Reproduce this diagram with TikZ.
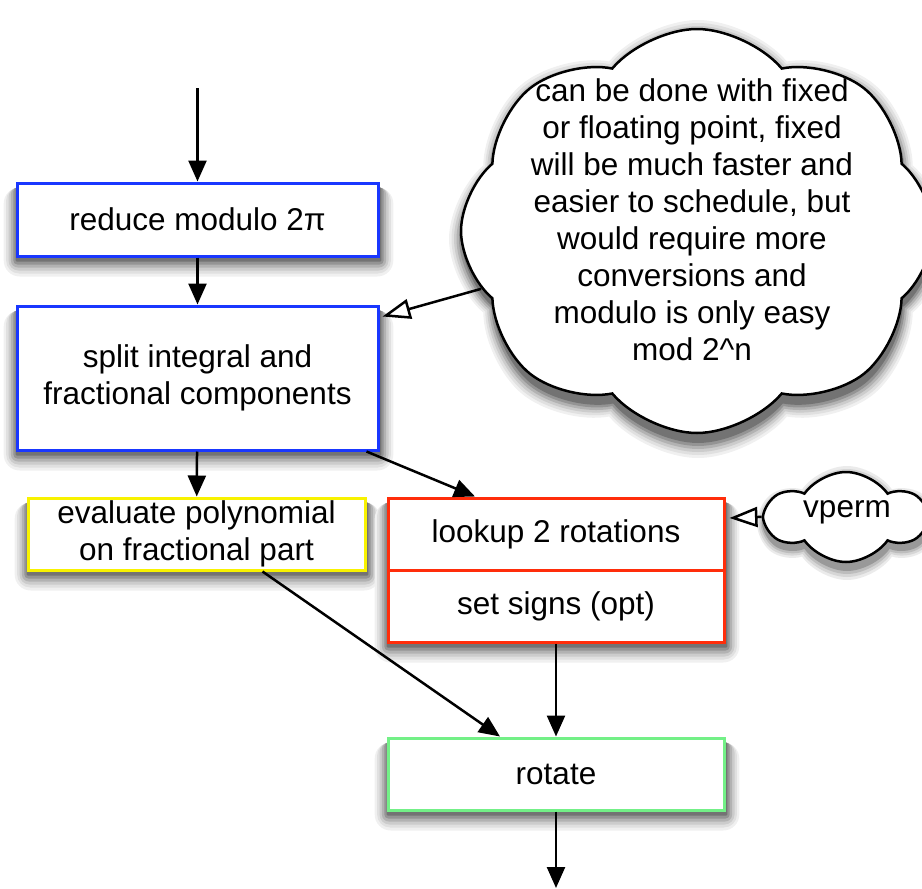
\documentclass[tikz,border=0pt]{standalone}
\usepackage{fontspec}
\setmainfont{Liberation Sans}
\usetikzlibrary{arrows.meta,shapes.symbols,backgrounds}
\definecolor{boxblue}{RGB}{25,55,255}
\definecolor{boxred}{RGB}{255,45,10}
\definecolor{boxyellow}{RGB}{248,242,0}
\definecolor{boxgreen}{RGB}{115,240,135}
\begin{document}
\begin{tikzpicture}[x=1pt,y=-1pt,
  font=\fontsize{31.5}{37}\selectfont,
  box/.style={draw,line width=3pt,fill=white,inner sep=0pt,align=center},
  cloudst/.style={cloud,cloud ignores aspect,draw,line width=2.5pt,fill=white,inner sep=0pt},
  bigpuffs/.style={cloud puffs=8,cloud puff arc=100},
  smallpuffs/.style={cloud puffs=6,cloud puff arc=110},
  cloudsh/.style={cloud,cloud ignores aspect,inner sep=0pt,draw=none},
  arr/.style={line width=2.5pt,-{Triangle[length=21pt,width=18pt]}},
  openarr/.style={line width=2.5pt,-{Triangle[open,length=28pt,width=20pt,fill=white]}},
  txt/.style={align=center,inner sep=0pt}]
\useasboundingbox (0,0) rectangle (922,889);
% big cloud
\node[cloudst,bigpuffs,minimum width=472pt,minimum height=404pt] (bigcloud) at (697,231) {};
\node[txt] (note) at (692,220) {can be done with fixed\\or floating point, fixed\\will be much faster and\\easier to schedule, but\\would require more\\conversions and\\modulo is only easy\\mod 2\textasciicircum n};
% small cloud
\node[cloudst,smallpuffs,minimum width=158pt,minimum height=90pt] (vcloud) at (846,517) {};
\node[txt,anchor=base] (vperm) at (847,517) {vperm};
% boxes
\coordinate (in) at (197.5,88);
\node[box,draw=boxblue,minimum width=361pt,minimum height=73pt] (reduce) at (197.5,219.5) {reduce modulo 2π};
\node[box,draw=boxblue,minimum width=361pt,minimum height=144pt] (split) at (197.5,378) {split integral and\\fractional components};
\node[box,draw=boxyellow,minimum width=337pt,minimum height=72pt] (eval) at (196.5,534) {evaluate polynomial\\on fractional part};
\node[box,draw=boxred,minimum width=336pt,minimum height=144pt] (rot) at (556,570) {};
\draw[boxred,line width=3pt] (rot.west) -- (rot.east);
\node[txt] (lookup) at (556,534) {lookup 2 rotations};
\node[txt] (signs) at (556,606) {set signs (opt)};
\node[box,draw=boxgreen,minimum width=336pt,minimum height=72pt] (rotate) at (556,774) {rotate};
\coordinate (out) at (556,888);
% soft shadows
\begin{scope}[on background layer]
  \foreach \n in {reduce,split,eval,rot,rotate}{
    \foreach \e/\c in {16/6,13/12,10/20,7/30,4/42,1/55}{
      \fill[black!\c,rounded corners=\e pt] ([xshift={-0.8*\e*1pt+1pt},yshift={-(3+\e)*1pt}]\n.south west) rectangle ([xshift={0.8*\e*1pt+1pt},yshift=-6pt]\n.north east);
    }
  }
  \foreach \e/\c/\w/\h in {16/6/498/438,13/12/493/432,10/20/488/426,7/30/483/420,4/42/478/414,1/55/473/408}{
    \node[cloudsh,bigpuffs,fill=black!\c,minimum width=\w pt,minimum height=\h pt] (bigsh\e) at (698,239) {};
  }
  \foreach \e/\c/\w/\h in {12/8/176/114,9/16/172/108,6/26/167/102,3/40/163/96}{
    \node[cloudsh,smallpuffs,fill=black!\c,minimum width=\w pt,minimum height=\h pt] (vsh\e) at (847,523) {};
  }
\end{scope}
% connectors
\draw[arr] (in) -- (reduce);
\draw[arr] (reduce) -- (split);
\draw[arr] (split) -- (eval);
\draw[arr] ([xshift=-13pt]split.south east) -- ([xshift=-81pt]rot.north);
\draw[arr] ([xshift=66pt]eval.south) -- ([xshift=-56pt]rotate.north);
\draw[arr] (rot) -- (rotate);
\draw[arr] (rotate) -- (out);
\draw[openarr] (bigcloud.195) -- ([xshift=3pt,yshift=-12pt]split.north east);
\draw[openarr] (vcloud.west) -- ([xshift=4pt,yshift=52pt]rot.east);
\end{tikzpicture}
\end{document}
